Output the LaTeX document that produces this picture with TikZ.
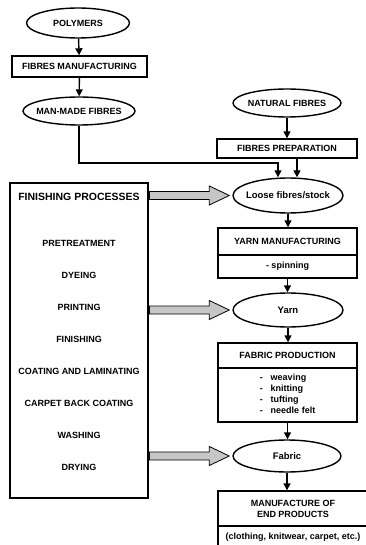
\documentclass[tikz,border=0pt]{standalone}
\usepackage{fontspec}
\setmainfont{Liberation Sans}
\usetikzlibrary{shapes.geometric,arrows.meta,calc}

\begin{document}
\begin{tikzpicture}
      [x = 1pt, y = -1pt, line width = 1.4pt,
       every node/.style = {font = \bfseries\fontsize{9}{11}\selectfont},
       oval/.style = {draw, ellipse, inner xsep = -12pt, inner ysep = 0pt},
       lower/.style = {font = \bfseries\fontsize{9.5}{11}\selectfont},
       box/.style = {draw, rectangle, inner sep = 0pt, minimum width = 139pt},
       flow/.style = {-{Triangle[length = 7pt, width = 7pt]}},
       blockarrow/.style = {draw = black, line width = .8pt, fill = gray!45}]
      \useasboundingbox (0,0) rectangle (365,545);
      % left column
      \node[oval, minimum width = 103pt, minimum height = 30pt] (polymers) at (78,23) {POLYMERS};
      \node[box, minimum width = 135pt, minimum height = 21pt] (fibman) at (79.5,66.5) {FIBRES MANUFACTURING};
      \node[oval, minimum width = 112pt, minimum height = 28pt] (manmade) at (79,111) {MAN-MADE FIBRES};
      \node[draw, inner sep = 0pt, minimum width = 138pt, minimum height = 315pt] (finishing) at (79,340.5) {};
      \node[font = \bfseries\fontsize{10.5}{12}\selectfont] (fintitle) at (79,197) {FINISHING PROCESSES};
      \foreach \txt [count = \i] in {PRETREATMENT, DYEING, PRINTING, FINISHING,
          COATING AND LAMINATING, CARPET BACK COATING, WASHING, DRYING}
        \node (proc\i) at (79, 211 + 32*\i) {\txt};
      % right column
      \node[oval, minimum width = 108pt, minimum height = 28pt] (natural) at (287,103) {NATURAL FIBRES};
      \node[box, minimum width = 140pt, minimum height = 19pt] (fibprep) at (287,148.5) {FIBRES PREPARATION};
      \node[oval, lower, minimum width = 110pt, minimum height = 35pt] (loose) at (288,195.5) {Loose fibres/stock};
      \node[box, minimum height = 27pt] (yarnman) at (287.5,241.5) {YARN MANUFACTURING};
      \node[box, minimum height = 23pt] (spinning) at (287.5,266.5) {- spinning};
      \node[oval, lower, minimum width = 110pt, minimum height = 34pt] (yarn) at (288,310) {Yarn};
      \node[box, minimum height = 25pt] (fabprod) at (287.5,355.5) {FABRIC PRODUCTION};
      \node[box, minimum height = 54pt] (methods) at (287.5,395)
        {\begin{tabular}{@{}l@{\hspace{8pt}}l@{}}
           - & weaving\\ - & knitting\\ - & tufting\\ - & needle felt
         \end{tabular}};
      \node[oval, lower, minimum width = 108pt, minimum height = 32pt] (fabric) at (287,456) {Fabric};
      \node[box, minimum width = 150pt, minimum height = 35pt, align = center] (endprod) at (293,508.5)
        {MANUFACTURE OF\\END PRODUCTS};
      \node[box, minimum width = 150pt, minimum height = 22pt] (examples) at (293,537)
        {(clothing, knitwear, carpet, etc.)};
      % connectors
      \draw[flow] (polymers) -- (fibman);
      \draw[flow] (fibman) -- (manmade);
      \coordinate (bend) at (278,163);
      \draw[flow] (manmade.south) |- (bend) -- (bend |- loose.north);
      \draw[flow] (natural) -- (fibprep);
      \draw[flow] ([xshift = 10pt]fibprep.south) -- ([xshift = 10pt]fibprep.south |- loose.north);
      \draw[flow] (loose.south) -- (loose.south |- yarnman.north);
      \draw[flow] (spinning.south) -- (spinning.south |- yarn.north);
      \draw[flow] (yarn.south) -- (yarn.south |- fabprod.north);
      \draw[flow] (methods.south) -- (methods.south |- fabric.north);
      \draw[flow] (fabric.south) -- (fabric.south |- endprod.north);
      \foreach \target in {loose, yarn, fabric}
        \draw[blockarrow] let \p1 = (finishing.east |- \target.west),
            \p2 = ([xshift = -3pt]\target.west) in
          (\x1 + .7pt, \y1 + 4pt) -- (\x2 - 20pt, \y1 + 4pt) -- (\x2 - 20pt, \y1 + 9.5pt)
          -- (\x2, \y1) -- (\x2 - 20pt, \y1 - 9.5pt) -- (\x2 - 20pt, \y1 - 4pt)
          -- (\x1 + .7pt, \y1 - 4pt) -- cycle;
\end{tikzpicture}
\end{document}
